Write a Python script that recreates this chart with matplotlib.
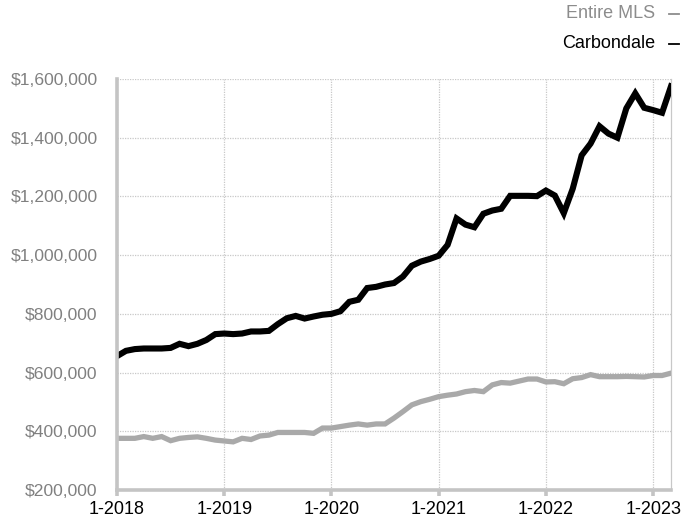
import matplotlib
matplotlib.use("Agg")
import matplotlib.pyplot as plt
from matplotlib.lines import Line2D
from matplotlib.ticker import FuncFormatter, FixedLocator

plt.rcParams['font.family'] = ['Liberation Sans', 'DejaVu Sans']

# Monthly median sales price, Jan 2018 .. Mar 2023
months = [f"{m}-{y}" for y in range(2018, 2024) for m in range(1, 13)][:63]

carbondale = [
    656000, 674000, 680000, 682000, 682000, 682000, 684000, 698000, 690000, 698000, 711000, 731000,
    733000, 731000, 733000, 740000, 740000, 742000, 765000, 785000, 793000, 784000, 791000, 797000,
    800000, 809000, 841000, 848000, 888000, 892000, 900000, 905000, 927000, 964000, 978000, 987000,
    998000, 1035000, 1125000, 1104000, 1095000, 1141000, 1152000, 1158000, 1202000, 1202000, 1202000, 1201000,
    1220000, 1203000, 1143000, 1226000, 1340000, 1380000, 1439000, 1414000, 1400000, 1500000, 1551000, 1502000,
    1494000, 1485000, 1575000,
]

entire_mls = [
    376000, 376000, 376000, 382000, 376000, 382000, 368000, 376000, 379000, 381000, 376000, 370000,
    367000, 364000, 376000, 372000, 384000, 387000, 396000, 396000, 396000, 396000, 393000, 411000,
    411000, 416000, 421000, 425000, 421000, 425000, 425000, 445000, 467000, 490000, 501000, 509000,
    518000, 523000, 527000, 535000, 539000, 535000, 558000, 566000, 564000, 571000, 578000, 578000,
    568000, 569000, 562000, 579000, 583000, 593000, 586000, 586000, 586000, 587000, 586000, 585000,
    590000, 590000, 598000,
]

year_ticks = ["1-2018", "1-2019", "1-2020", "1-2021", "1-2022", "1-2023"]
y_ticks = [200000, 400000, 600000, 800000, 1000000, 1200000, 1400000, 1600000]

MLS_GREY = "#a9a9a9"
W, H = 683, 523

fig = plt.figure(figsize=(W / 100, H / 100), dpi=100)
ax = fig.add_axes([117 / W, 1 - 490 / H, (671 - 117) / W, (490 - 79) / H])

x = list(range(len(months)))
ax.plot(x, entire_mls, color=MLS_GREY, lw=3.8, solid_joinstyle="miter", zorder=3)
ax.plot(x, carbondale, color="#000000", lw=4.4, solid_joinstyle="miter", zorder=4)

ax.set_xlim(0, len(months) - 1)
ax.set_ylim(y_ticks[0], y_ticks[-1])

tick_pos = [months.index(t) for t in year_ticks]
ax.xaxis.set_major_locator(FixedLocator(tick_pos))
ax.set_xticklabels(year_ticks)
ax.yaxis.set_major_locator(FixedLocator(y_ticks))
ax.yaxis.set_major_formatter(FuncFormatter(lambda v, p: f"${v:,.0f}"))

ax.grid(True, color="#c8c8c8", linestyle=(0, (1, 1)), linewidth=0.9, zorder=0)

ax.spines["top"].set_visible(False)
ax.spines["right"].set_color("#c8c8c8")
ax.spines["right"].set_linestyle((0, (1, 1)))
ax.spines["right"].set_linewidth(0.9)
for side in ("left", "bottom"):
    ax.spines[side].set_color("#c4c4c4")
    ax.spines[side].set_linewidth(2.6)
    ax.spines[side].set_zorder(5)

ax.tick_params(axis="y", length=0, pad=14, labelsize=12.6, labelcolor="#808080")
ax.tick_params(axis="x", length=4, width=2.6, color="#c4c4c4", direction="out",
               pad=4, labelsize=13, labelcolor="#000000")

# Series key in the top-right corner: label followed by a short dash
for label, color, ypx in (("Entire MLS", "#8c8c8c", 14), ("Carbondale", "#000000", 44)):
    yf = 1 - ypx / H
    fig.text(655 / W, yf, label, color=color, fontsize=13, ha="right", va="center")
    fig.add_artist(Line2D([669 / W, 679 / W], [yf, yf], color=color, lw=1.3,
                          transform=fig.transFigure))

fig.savefig("out.png", dpi=100)
